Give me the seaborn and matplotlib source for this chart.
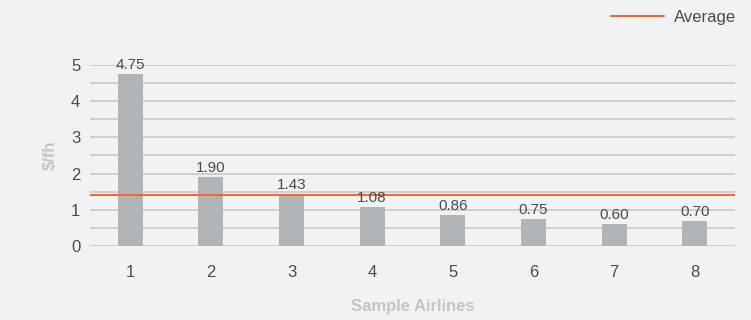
import matplotlib
matplotlib.use("Agg")
import matplotlib.pyplot as plt
import seaborn as sns
import pandas as pd

# chart data
airlines = ["1", "2", "3", "4", "5", "6", "7", "8"]
cost = [4.75, 1.90, 1.43, 1.08, 0.86, 0.75, 0.60, 0.70]
average = 1.40
y_ticks = [0, 1, 2, 3, 4, 5]

bg = "#f1f2f4"
sns.set_theme(style="white")
plt.rcParams["font.family"] = ["Liberation Sans", "DejaVu Sans"]

df = pd.DataFrame({"airline": airlines, "cost": cost})

fig = plt.figure(figsize=(7.51, 3.2), dpi=100, facecolor=bg)
ax = fig.add_axes([0.1198, 0.2312, 0.8589, 0.5658])
ax.set_facecolor(bg)

sns.barplot(data=df, x="airline", y="cost", color="#b1b5b8", width=0.31,
            saturation=1, linewidth=0, ax=ax, zorder=3)

# value labels
for i, v in enumerate(cost):
    ax.text(i, v + 0.05, f"{v:.2f}", ha="center", va="bottom",
            fontsize=11, color="#4a4a4a", zorder=5)

ax.axhline(average, color="#f26a30", lw=1.5, zorder=4, label="Average")

ax.set_ylim(0, 5)
ax.set_xlim(-0.5, 7.5)
ax.set_yticks(y_ticks)
for g in [i * 0.5 for i in range(11)]:
    ax.axhline(g, color="#c8c9cc", lw=1.2, zorder=1)

for s in ax.spines.values():
    s.set_visible(False)
ax.tick_params(axis="both", length=0, labelsize=12, labelcolor="#4a4a4a")
ax.tick_params(axis="y", pad=7)
ax.tick_params(axis="x", pad=14)

ax.set_xlabel("Sample Airlines", fontsize=12, fontweight="bold",
              color="#c3c5c8", labelpad=13)
ax.set_ylabel("$/fh", fontsize=12, fontweight="bold", color="#c3c5c8")
ax.yaxis.set_label_coords(-0.05, 0.5)

leg = ax.legend(loc="upper right", bbox_to_anchor=(1.0, 1.015),
                bbox_transform=fig.transFigure, frameon=False, fontsize=12,
                handlelength=3.2, handletextpad=0.6)
for t in leg.get_texts():
    t.set_color("#4a4a4a")

fig.savefig("out.png", dpi=100, facecolor=bg)
